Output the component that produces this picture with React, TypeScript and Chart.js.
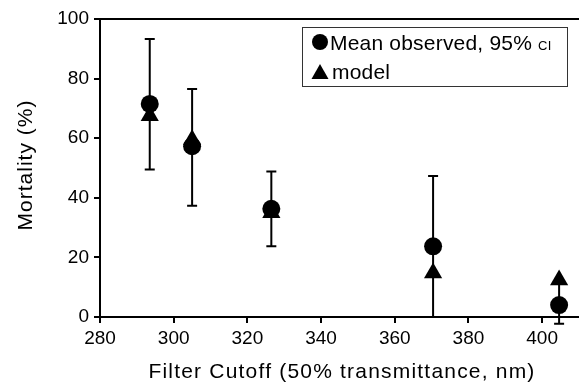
import React, { useEffect, useRef } from "react";
import { Chart, registerables } from "chart.js";

Chart.register(...registerables);

const cutoffs = [293.5, 305, 326.5, 370.4, 404.6];
const observed = [71.5, 57.3, 36.3, 23.7, 4];
const model = [67.5, 59.5, 35, 14.8, 12.4];
const ciLow = [49.5, 37.3, 23.7, 0, -2.3];
const ciHigh = [93.3, 76.5, 48.8, 47.3, 12];
const xTitle = "Filter Cutoff (50% transmittance, nm)";
const yTitle = "Mortality (%)";
const legendObserved = "Mean observed, 95% ";
const legendCI = "CI";
const legendModel = "model";

const FONT = "'Liberation Sans', Arial, Helvetica, sans-serif";

const decorations = {
  id: "decorations",
  beforeDatasetsDraw(chart: any) {
    const { ctx, scales } = chart;
    const xs = scales.x;
    const ys = scales.y;
    ctx.save();
    ctx.strokeStyle = "#000";
    ctx.lineWidth = 2;
    for (let i = 0; i < cutoffs.length; i++) {
      const x = xs.getPixelForValue(cutoffs[i]);
      const y1 = ys.getPixelForValue(ciLow[i]);
      const y2 = ys.getPixelForValue(ciHigh[i]);
      ctx.beginPath();
      ctx.moveTo(x, y1);
      ctx.lineTo(x, y2);
      ctx.moveTo(x - 5, y1);
      ctx.lineTo(x + 5, y1);
      ctx.moveTo(x - 5, y2);
      ctx.lineTo(x + 5, y2);
      ctx.stroke();
    }
    ctx.restore();
  },
  afterDraw(chart: any) {
    const { ctx, chartArea } = chart;
    ctx.save();
    // top border
    ctx.strokeStyle = "#000";
    ctx.lineWidth = 2;
    ctx.beginPath();
    ctx.moveTo(chartArea.left, chartArea.top);
    ctx.lineTo(chartArea.right, chartArea.top);
    ctx.stroke();

    // axis titles
    ctx.fillStyle = "#000";
    ctx.textBaseline = "alphabetic";
    ctx.textAlign = "center";
    (ctx as any).letterSpacing = "1.2px";
    ctx.font = `21px ${FONT}`;
    ctx.fillText(xTitle, 342, 378);
    ctx.save();
    ctx.translate(32, 165);
    ctx.rotate(-Math.PI / 2);
    (ctx as any).letterSpacing = "1px";
    ctx.font = `21px ${FONT}`;
    ctx.fillText(yTitle, 0, 0);
    ctx.restore();

    // legend box
    const bx = 302, by = 27, bw = 265, bh = 59;
    ctx.lineWidth = 1;
    ctx.strokeStyle = "#333";
    ctx.strokeRect(bx + 0.5, by + 0.5, bw, bh);
    ctx.fillStyle = "#000";
    ctx.beginPath();
    ctx.arc(320, 42, 8, 0, Math.PI * 2);
    ctx.fill();
    ctx.beginPath();
    ctx.moveTo(320, 64);
    ctx.lineTo(328.5, 79);
    ctx.lineTo(311.5, 79);
    ctx.closePath();
    ctx.fill();
    ctx.textAlign = "left";
    (ctx as any).letterSpacing = "0.2px";
    ctx.font = `21px ${FONT}`;
    ctx.fillText(legendObserved, 330, 50);
    const w = ctx.measureText(legendObserved).width;
    ctx.font = `13px ${FONT}`;
    ctx.fillText(legendCI, 330 + w, 50);
    ctx.font = `21px ${FONT}`;
    ctx.fillText(legendModel, 332, 79);
    ctx.restore();
  },
};

export default function App() {
  const ref = useRef<HTMLCanvasElement | null>(null);
  useEffect(() => {
    if (!ref.current) return;
    const chart = new Chart(ref.current, {
      type: "scatter",
      data: {
        datasets: [
          {
            label: "model",
            data: cutoffs.map((x, i) => ({ x, y: model[i] })),
            pointStyle: "triangle",
            pointRadius: 10.5,
            backgroundColor: "#000",
            borderColor: "#000",
            borderWidth: 0,
          },
          {
            label: "Mean observed",
            data: cutoffs.map((x, i) => ({ x, y: observed[i] })),
            pointStyle: "circle",
            pointRadius: 9,
            backgroundColor: "#000",
            borderColor: "#000",
            borderWidth: 0,
          },
        ],
      },
      options: {
        animation: false,
        responsive: false,
        devicePixelRatio: 1,
        layout: { autoPadding: false, padding: { top: 19, right: 0, left: 0, bottom: 0 } },
        plugins: { legend: { display: false }, tooltip: { enabled: false } },
        scales: {
          x: {
            type: "linear",
            min: 280,
            max: 410,
            afterFit: (s: any) => { s.height = 66; s.paddingRight = 0; s.paddingLeft = 0; },
            ticks: {
              stepSize: 20,
              includeBounds: false,
              color: "#000",
              font: { family: FONT, size: 19 },
              padding: 4,
              maxRotation: 0,
            },
            grid: { display: true, drawOnChartArea: false, drawTicks: true, tickLength: 6, color: "#000", lineWidth: 2 },
            border: { display: true, color: "#000", width: 2 },
          },
          y: {
            type: "linear",
            min: 0,
            max: 100,
            afterFit: (s: any) => { s.width = 100; s.paddingTop = 0; s.paddingBottom = 0; },
            ticks: {
              stepSize: 20,
              color: "#000",
              font: { family: FONT, size: 19 },
              padding: 5,
            },
            grid: { display: true, drawOnChartArea: false, drawTicks: true, tickLength: 6, color: "#000", lineWidth: 2 },
            border: { display: true, color: "#000", width: 2 },
          },
        },
      },
      plugins: [decorations],
    } as any);
    return () => chart.destroy();
  }, []);
  return (
    <div style={{ position: "absolute", left: 0, top: 0, width: 579, height: 383, background: "#fff" }}>
      <canvas ref={ref} width={579} height={383} />
    </div>
  );
}
